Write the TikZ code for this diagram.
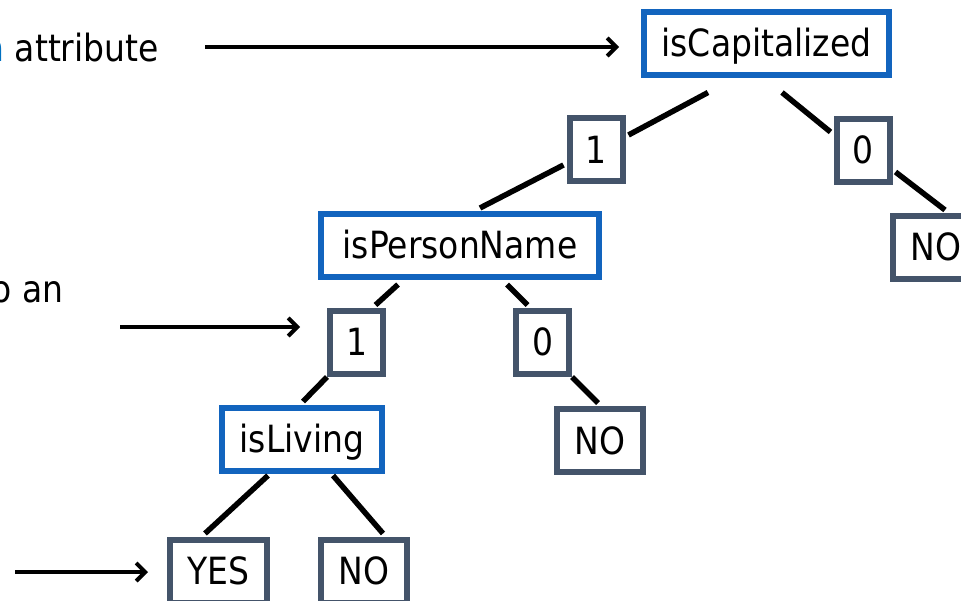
\documentclass[tikz,border=0pt]{standalone}
\usepackage{fontspec}
\setmainfont{DejaVu Sans}[FakeStretch=0.88]
\usepackage{tikz}
\usetikzlibrary{arrows.meta}
\definecolor{testblue}{RGB}{18,100,190}
\definecolor{boxgray}{RGB}{68,84,106}
\definecolor{hintblue}{RGB}{0,112,192}

\begin{document}
\begin{tikzpicture}[x=1pt,y=-1pt,
  every node/.style={font=\fontsize{37.5}{44}\selectfont},
  test/.style={draw=testblue,line width=6pt,fill=white,inner sep=0pt,minimum height=63pt,text height=27pt,text depth=0pt},
  value/.style={test,draw=boxgray,minimum width=53pt},
  edge/.style={line width=5.5pt},
  pointer/.style={line width=4pt,-{Straight Barb[length=9pt,width=18pt]}},
  note/.style={inner sep=0pt,anchor=base east}]
\useasboundingbox (0,0) rectangle (961,601);

% tests and branch values
\node[test,minimum width=245pt] (cap) at (766.5,43.5) {isCapitalized};
\node[value] (cap1) at (596,150) {1};
\node[value] (cap0) at (863,150.5) {0};
\node[value,minimum width=86pt] (capno) at (936,247.5) {NO};
\node[test,minimum width=278pt] (pers) at (460,245.5) {isPersonName};
\node[value] (pers1) at (356.5,342.5) {1};
\node[value] (pers0) at (542.5,342.5) {0};
\node[test,minimum width=160pt] (liv) at (302,439) {isLiving};
\node[value,minimum width=86pt] (persno) at (600,440.5) {NO};
\node[value,minimum width=97pt] (livyes) at (218.5,571) {YES};
\node[value,minimum width=86pt] (livno) at (364,571) {NO};

% tree edges
\draw[edge] ([shift={(-58.5,14.5)}]cap.south) -- ([shift={(3,-15)}]cap1.east);
\draw[edge] ([shift={(15.5,14.5)}]cap.south) -- ([shift={(-3,-18.5)}]cap0.west);
\draw[edge] ([shift={(3,21.5)}]cap0.east) -- ([shift={(9,-3)}]capno.north);
\draw[edge] ([shift={(-3,15)}]cap1.west) -- ([shift={(20,-3)}]pers.north);
\draw[edge] ([shift={(-62,4.5)}]pers.south) -- ([shift={(19,-3)}]pers1.north);
\draw[edge] ([shift={(47,4.5)}]pers.south) -- ([shift={(-15,-3)}]pers0.north);
\draw[edge] (pers1.south west) -- ([shift={(1,-3)}]liv.north);
\draw[edge] (pers0.south east) -- ([shift={(-2,-3)}]persno.north);
\draw[edge] ([shift={(-34,2)}]liv.south) -- ([shift={(-13.5,-3)}]livyes.north);
\draw[edge] ([shift={(31,2)}]liv.south) -- ([shift={(19,-3)}]livno.north);

% side notes and pointers
\node[note] (attr) at (159,62) {{\color{hintblue}n} attribute};
\node[note] (map) at (64,303) {o an};
\coordinate (attrtail) at (205,47);
\coordinate (maptail) at (120,327);
\coordinate (leaftail) at (15,572);
\draw[pointer] (attrtail) -- ([shift={(-22,3.5)}]cap.west);
\draw[pointer] (maptail) -- ([shift={(-27,-15.5)}]pers1.west);
\draw[pointer] (leaftail) -- ([shift={(-19,1)}]livyes.west);
\end{tikzpicture}
\end{document}
